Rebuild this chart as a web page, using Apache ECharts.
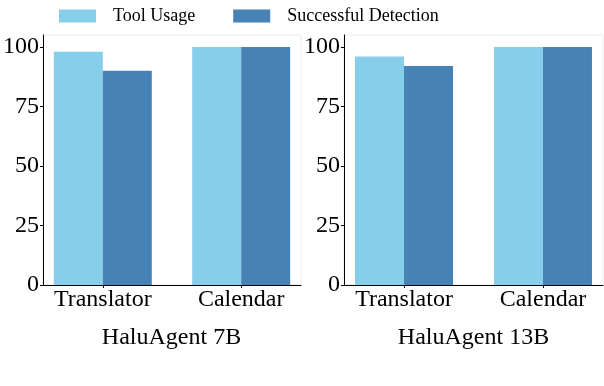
<!DOCTYPE html>
<html>
<head>
<meta charset="utf-8">
<script src="https://cdn.jsdelivr.net/npm/echarts@6/dist/echarts.min.js"></script>
<style>
  html, body { margin: 0; padding: 0; background: #fff; }
  #chart { width: 604px; height: 386px; }
</style>
</head>
<body>
<div id="chart"></div>
<script>
// data
const categories = ['Translator', 'Calendar'];
const seriesNames = ['Tool Usage', 'Successful Detection'];
const panelTitles = ['HaluAgent 7B', 'HaluAgent 13B'];
const usage7B = [98, 100];
const detect7B = [90, 100];
const usage13B = [96, 100];
const detect13B = [92, 100];
const yTicks = [0, 25, 50, 75, 100];

const colors = ['#87CEEB', '#4682B4'];
const font = '"Liberation Serif", "Times New Roman", serif';

const grids = [
  { left: 42, top: 35, width: 259, height: 250 },
  { left: 344, top: 35, width: 259, height: 250 }
];

function xAxis(i) {
  return {
    type: 'value', gridIndex: i, min: -0.432, max: 1.432,
    splitLine: { show: false },
    axisLine: { show: true, onZero: false, lineStyle: { color: '#000', width: 1 } },
    axisTick: { show: true, length: 3, lineStyle: { color: '#000' }, customValues: [0, 1] },
    axisLabel: {
      customValues: [0, 1], margin: 3,
      formatter: v => categories[Math.round(v)] || '',
      fontFamily: font, fontSize: 24, color: '#000'
    }
  };
}

function yAxis(i) {
  return {
    type: 'value', gridIndex: i, min: 0, max: 105, interval: 25,
    splitLine: { show: false },
    axisLine: { show: true, onZero: false, lineStyle: { color: '#000', width: 1 } },
    axisTick: { show: true, length: 3, lineStyle: { color: '#000' }, customValues: yTicks },
    axisLabel: {
      customValues: yTicks, margin: 4,
      fontFamily: font, fontSize: 24, color: '#000'
    }
  };
}

function bars(name, values, i, color) {
  return {
    type: 'bar', name: name, xAxisIndex: i, yAxisIndex: i,
    data: values.map((v, k) => [k, v]),
    barWidth: 49, barGap: '0%',
    itemStyle: { color: color },
    animation: false
  };
}

const option = {
  animation: false,
  legend: {
    left: 54, top: 2,
    itemWidth: 37, itemHeight: 13, itemGap: 38,
    icon: 'rect',
    data: seriesNames,
    textStyle: { fontFamily: font, fontSize: 18, color: '#000', padding: [0, 0, 0, 12] }
  },
  grid: grids.map(g => Object.assign({
    show: true, borderColor: '#ebebeb', borderWidth: 1, backgroundColor: 'transparent'
  }, g)),
  xAxis: [xAxis(0), xAxis(1)],
  yAxis: [yAxis(0), yAxis(1)],
  series: [
    bars(seriesNames[0], usage7B, 0, colors[0]),
    bars(seriesNames[1], detect7B, 0, colors[1]),
    bars(seriesNames[0], usage13B, 1, colors[0]),
    bars(seriesNames[1], detect13B, 1, colors[1])
  ],
  graphic: [
    {
      type: 'text', x: 171.5, y: 338,
      style: { text: panelTitles[0], font: '24px ' + font, fill: '#000', align: 'center', verticalAlign: 'middle' }
    },
    {
      type: 'text', x: 473.5, y: 338,
      style: { text: panelTitles[1], font: '24px ' + font, fill: '#000', align: 'center', verticalAlign: 'middle' }
    },
    {
      type: 'text', x: 0, y: 395,
      style: { text: 'Figure 3: The percentage of tool usage and successful detection', font: '22px ' + font, fill: '#000', align: 'left', verticalAlign: 'middle' }
    }
  ]
};

const chart = echarts.init(document.getElementById('chart'), null, { renderer: 'canvas' });
chart.setOption(option);
</script>
</body>
</html>
